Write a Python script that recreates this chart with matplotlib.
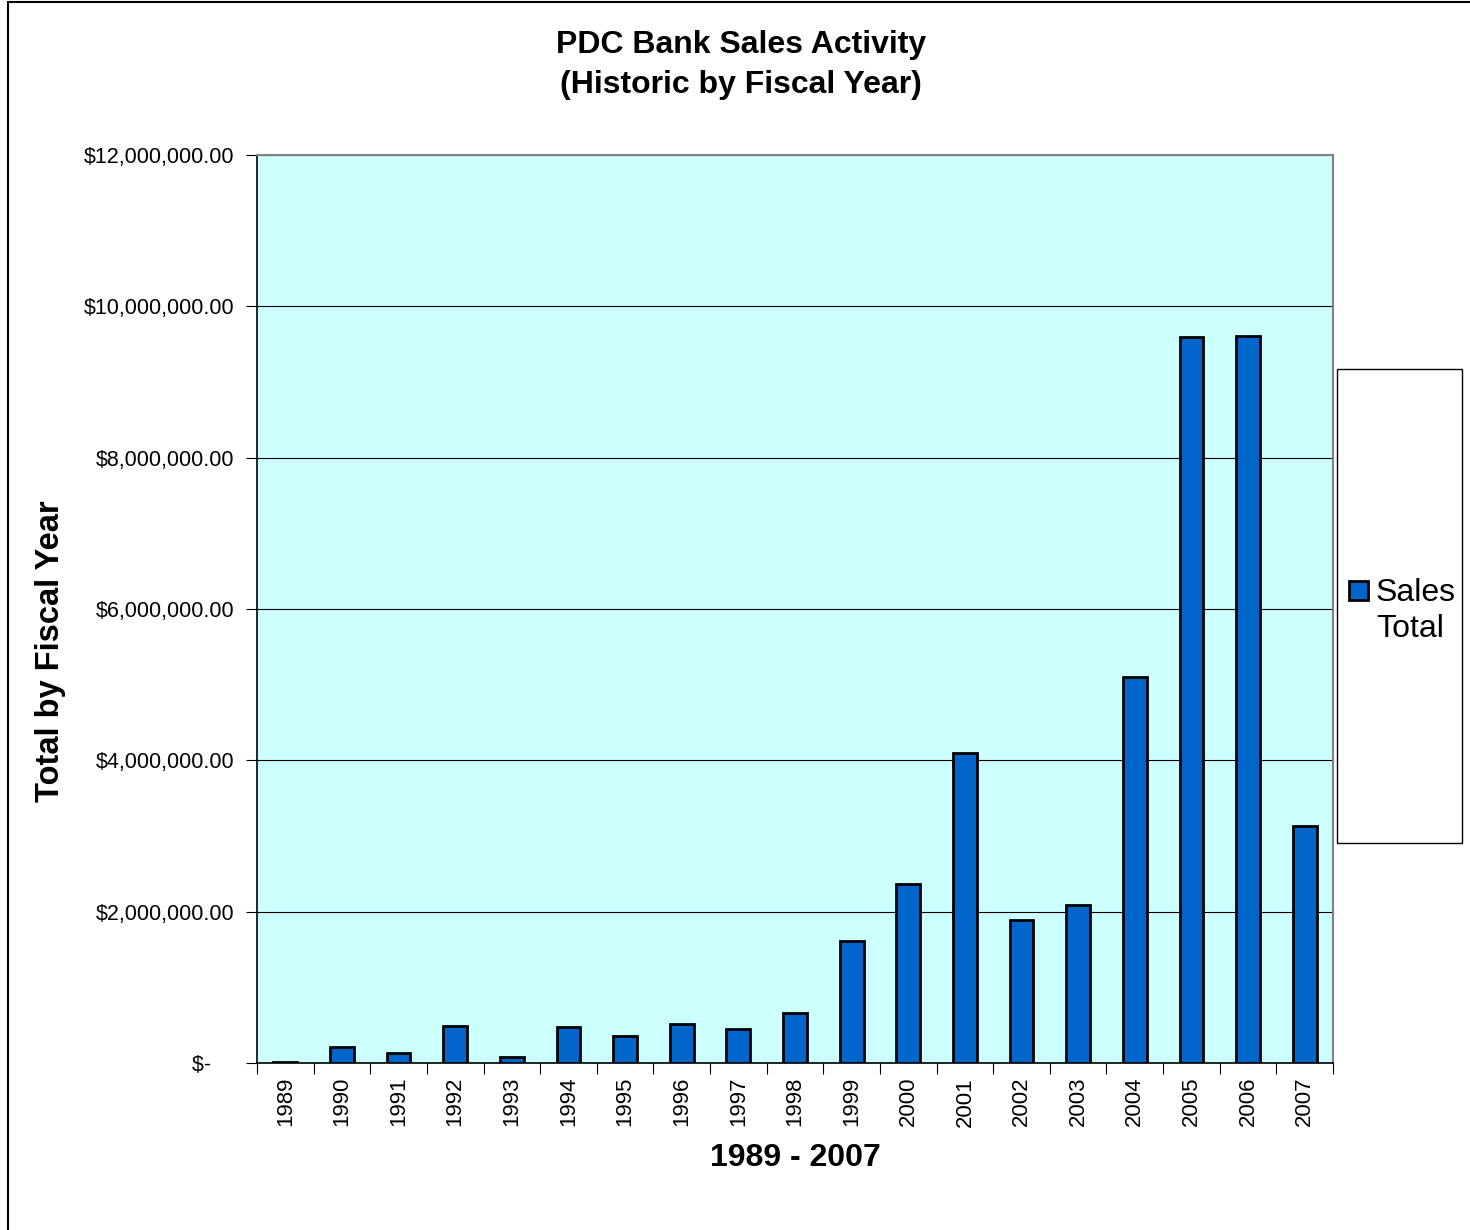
import matplotlib
import matplotlib.pyplot as plt
from matplotlib.patches import Rectangle
from matplotlib.ticker import FuncFormatter

matplotlib.use("Agg")

years = [str(y) for y in range(1989, 2008)]
sales = [15000, 210000, 130000, 490000, 80000, 480000, 360000, 520000, 450000, 660000,
         1610000, 2370000, 4100000, 1890000, 2090000, 5100000, 9590000, 9610000, 3130000]

plt.rcParams["font.family"] = ["Liberation Sans", "DejaVu Sans"]

W, H = 1470, 1230
BAR_COLOR = "#0066CC"
fig = plt.figure(figsize=(W / 100, H / 100), dpi=100)
ax = fig.add_axes([257 / W, 1 - 1063 / H, (1333 - 257) / W, (1063 - 155) / H])
ax.set_facecolor("#CCFFFF")

x = range(len(years))
ax.bar(x, sales, width=0.42, color=BAR_COLOR, edgecolor="black", linewidth=2, zorder=3)
ax.set_xlim(-0.5, len(years) - 0.5)
ax.set_ylim(0, 12000000)
ax.set_yticks(range(0, 12000001, 2000000))
ax.yaxis.grid(True, color="black", linewidth=0.8, zorder=1)


def money(v, pos):
    # accounting style: zero shows as a dash, padded on the right
    if v == 0:
        return "$-    "
    return "${:,.2f}".format(v)


ax.yaxis.set_major_formatter(FuncFormatter(money))
ax.set_xticks([i - 0.5 for i in range(len(years) + 1)], minor=False)
ax.set_xticklabels([])
ax.set_xticks(list(x), minor=True)
ax.set_xticklabels(years, minor=True, rotation=90, fontsize=16)
ax.tick_params(axis="x", which="minor", length=0, pad=10)
ax.tick_params(axis="x", which="major", length=8, direction="out", color="black")
ax.tick_params(axis="y", length=8, direction="out", labelsize=15.5, pad=8)

for s in ["top", "right"]:
    ax.spines[s].set_color("#808080")
    ax.spines[s].set_linewidth(1.5)
for s in ["left", "bottom"]:
    ax.spines[s].set_color("black")
    ax.spines[s].set_linewidth(1.2)

ax.set_xlabel("1989 - 2007", fontsize=23, fontweight="bold")
ax.xaxis.set_label_coords(0.5, (1063 - 1158) / 908)
ax.xaxis.label.set_va("center")
ax.set_ylabel("Total by Fiscal Year", fontsize=23.5, fontweight="bold")
ax.yaxis.set_label_coords((50 - 257) / 1076, (1063 - 651) / 908)
ax.yaxis.label.set_va("center")

fig.text(741 / W, 1 - 65 / H, "PDC Bank Sales Activity\n(Historic by Fiscal Year)",
         ha="center", va="center", fontsize=23, fontweight="bold", linespacing=1.42)

# legend: box taller than its content, swatch aligned with first line
fig.patches.append(Rectangle((1337 / W, 1 - 843 / H), 125 / W, 474 / H,
                             transform=fig.transFigure, fill=False, edgecolor="black",
                             linewidth=1))
fig.patches.append(Rectangle((1349 / W, 1 - 600 / H), 19 / W, 19 / H,
                             transform=fig.transFigure, facecolor=BAR_COLOR,
                             edgecolor="black", linewidth=2))
fig.text(1376 / W, 1 - 611 / H, "Sales\nTotal", ha="left", va="center", fontsize=23,
         linespacing=1.25)

# outer chart border
fig.patches.append(Rectangle((8 / W, -0.01), 1.1, 1 - 2 / H + 0.01,
                             transform=fig.transFigure, fill=False, edgecolor="black",
                             linewidth=1.5))

fig.savefig("out.png", dpi=100)
